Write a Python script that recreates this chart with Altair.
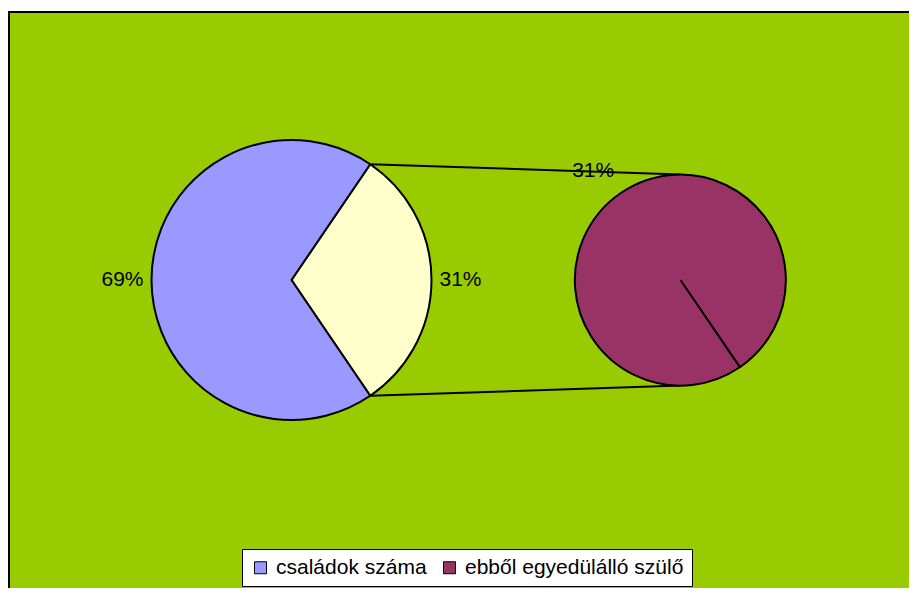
import math
import altair as alt
import pandas as pd

# ---- data ----
main_categories = ["Egyéb", "családok száma"]          # yellow "other" slice, blue slice
main_values = [31, 69]
second_categories = ["ebből egyedülálló szülő"]
second_values = [31]
legend_entries = ["családok száma", "ebből egyedülálló szülő"]
color_domain = ["családok száma", "ebből egyedülálló szülő", "Egyéb"]
color_range = ["#9999FF", "#993366", "#FFFFCC"]

total = sum(main_values)
main_df = pd.DataFrame({
    "cat": main_categories,
    "val": main_values,
    "idx": list(range(len(main_values))),
    "label": [f"{round(v / total * 100)}%" for v in main_values],
})
second_df = pd.DataFrame({
    "cat": second_categories,
    "val": second_values,
    "idx": list(range(len(second_values))),
    "label": [f"{round(v / total * 100)}%" for v in second_values],
})
one_row = pd.DataFrame({"k": [0]})

# ---- layout ----
FONT = "Liberation Sans"
CX1, CY1, R1 = 282.5, 268, 140
CX2, CY2, R2 = 671.5, 268, 105.5
frac = main_values[0] / total
a0 = math.pi / 2 - math.pi * frac      # start of "other" slice (clockwise from 12 o'clock)
a1 = math.pi / 2 + math.pi * frac      # end of "other" slice

color_scale = alt.Scale(domain=color_domain, range=color_range)
legend = alt.Legend(
    orient="none", legendX=233, legendY=537, direction="horizontal", title=None,
    values=legend_entries, symbolType="square", symbolSize=144,
    symbolStrokeColor="black", symbolStrokeWidth=1,
    labelFont=FONT, labelFontSize=21, labelColor="black", labelLimit=500,
    fillColor="white", strokeColor="black", padding=8,
    columnPadding=12, labelOffset=5,
)

# connector lines
def pt(cx, cy, r, a):
    return cx + r * math.sin(a), cy - r * math.cos(a)

p_top = pt(CX1, CY1, R1, a0)
p_bot = pt(CX1, CY1, R1, a1)
rule_top = alt.Chart(one_row).mark_rule(color="black", strokeWidth=2).encode(
    x=alt.value(p_top[0]), y=alt.value(p_top[1]),
    x2=alt.value(CX2), y2=alt.value(CY2 - R2))
rule_bot = alt.Chart(one_row).mark_rule(color="black", strokeWidth=2).encode(
    x=alt.value(p_bot[0]), y=alt.value(p_bot[1]),
    x2=alt.value(CX2), y2=alt.value(CY2 + R2))

# main pie
theta_main = alt.Theta("val:Q", stack=True, scale=alt.Scale(range=[a0, a0 + 2 * math.pi]))
main_arc = alt.Chart(main_df).mark_arc(radius=R1, stroke="black", strokeWidth=2).encode(
    theta=theta_main,
    order=alt.Order("idx:Q"),
    color=alt.Color("cat:N", scale=color_scale, legend=legend),
    x=alt.value(CX1), y=alt.value(CY1),
)
main_text = alt.Chart(main_df).mark_text(
    radius=169, font=FONT, fontSize=21, color="black", baseline="middle", align="center"
).encode(
    theta=theta_main,
    order=alt.Order("idx:Q"),
    detail="cat:N",
    text="label:N",
    x=alt.value(CX1), y=alt.value(CY1),
)
main_layer = alt.layer(main_arc, main_text)

# secondary pie
theta_second = alt.Theta("val:Q", stack=True,
                         scale=alt.Scale(range=[a1, a1 + 2 * math.pi - 0.002]))
second_arc = alt.Chart(second_df).mark_arc(radius=R2, stroke="black", strokeWidth=2).encode(
    theta=theta_second,
    order=alt.Order("idx:Q"),
    color=alt.Color("cat:N", scale=color_scale, legend=legend),
    x=alt.value(CX2), y=alt.value(CY2),
)
second_text = alt.Chart(second_df).mark_text(
    radius=132, dx=-13, font=FONT, fontSize=21, color="black", baseline="middle", align="center"
).encode(
    theta=theta_second,
    order=alt.Order("idx:Q"),
    detail="cat:N",
    text="label:N",
    x=alt.value(CX2), y=alt.value(CY2),
)
second_layer = alt.layer(second_arc, second_text)

frame = alt.Chart(one_row).mark_rect(filled=False, stroke="black", strokeWidth=2).encode(
    x=alt.value(0), y=alt.value(0), x2=alt.value(960), y2=alt.value(640))

chart = alt.layer(rule_top, rule_bot, main_layer, second_layer, frame).resolve_scale(
    theta="independent"
).properties(
    width=900, height=576,
    padding={"left": 1, "top": 4, "right": 0, "bottom": 0},
    autosize=alt.AutoSizeParams(type="none"),
    background="white",
).configure_view(fill="#99CC00", stroke="transparent")

chart.save("out.html", embed_options={"renderer": "svg", "actions": False})
